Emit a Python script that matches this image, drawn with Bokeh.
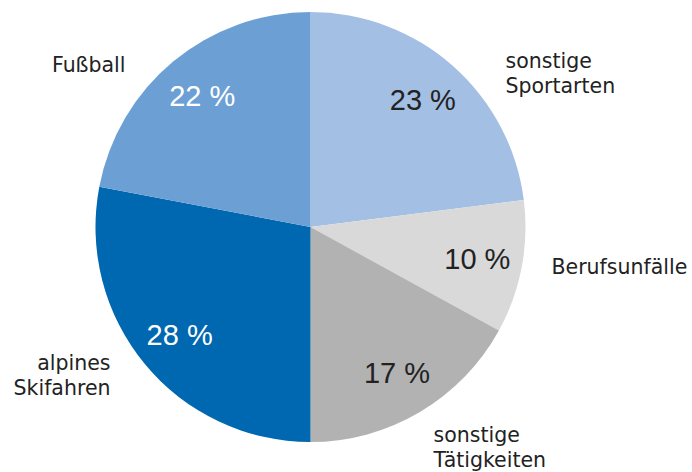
import math
from bokeh.plotting import figure
from bokeh.models import ColumnDataSource, Range1d
from bokeh.core.properties import value
from bokeh.embed import file_html
from bokeh.resources import INLINE

# data
categories = ["sonstige Sportarten", "Berufsunfälle", "sonstige Tätigkeiten", "alpines Skifahren", "Fußball"]
label_lines = [["sonstige", "Sportarten"], ["Berufsunfälle"], ["sonstige", "Tätigkeiten"], ["alpines", "Skifahren"], ["Fußball"]]
shares = [23, 10, 17, 28, 22]
colors = ["#a4bfe4", "#d9d9d9", "#b2b2b2", "#0067b1", "#6c9fd4"]
pct_colors = ["#222222", "#222222", "#222222", "#ffffff", "#ffffff"]

W, H = 692, 472
cx, cy, R = 310, 472 - 226.5, 215

# outside label anchors (screen px, first line center y) and alignment
label_anchor = [(505, 60), (551, 266), (433, 434), (110, 362), (125, 64)]
label_align = ["left", "left", "left", "right", "right"]

total = sum(shares)
starts, ends, mids = [], [], []
acc = 0.0
for s in shares:
    a0 = math.pi / 2 - 2 * math.pi * acc / total
    acc += s
    a1 = math.pi / 2 - 2 * math.pi * acc / total
    starts.append(a0)
    ends.append(a1)
    mids.append((a0 + a1) / 2)

p = figure(width=W, height=H, x_range=Range1d(0, W), y_range=Range1d(0, H),
           output_backend="svg", toolbar_location=None,
           x_axis_location=None, y_axis_location=None, min_border=0)
p.grid.visible = False
p.outline_line_color = None
p.background_fill_color = "white"

src = ColumnDataSource(dict(start=starts, end=ends, color=colors, cat=categories))
p.wedge(x=cx, y=cy, radius=R, start_angle="start", end_angle="end", direction="clock",
        fill_color="color", line_color=None, source=src)

rl = 0.79 * R
pct_src = ColumnDataSource(dict(
    x=[cx + rl * math.cos(m) for m in mids],
    y=[cy + rl * math.sin(m) for m in mids],
    t=[f"{s} %" for s in shares],
    c=pct_colors))
p.text(x="x", y="y", text="t", text_color="c", source=pct_src,
       text_font=value("Liberation Sans"), text_font_size="29px",
       text_align="center", text_baseline="middle")

xs, ys, ts, als = [], [], [], []
for lines, (ax, ay), al in zip(label_lines, label_anchor, label_align):
    for i, ln in enumerate(lines):
        xs.append(ax)
        ys.append(H - (ay + 25 * i))
        ts.append(ln)
        als.append(al)
lab_src = ColumnDataSource(dict(x=xs, y=ys, t=ts, a=als))
p.text(x="x", y="y", text="t", text_align="a", source=lab_src,
       text_font=value("DejaVu Sans"), text_font_size="20.5px", text_color="#222222",
       text_baseline="middle")

open("out.html", "w").write(file_html(p, INLINE))
